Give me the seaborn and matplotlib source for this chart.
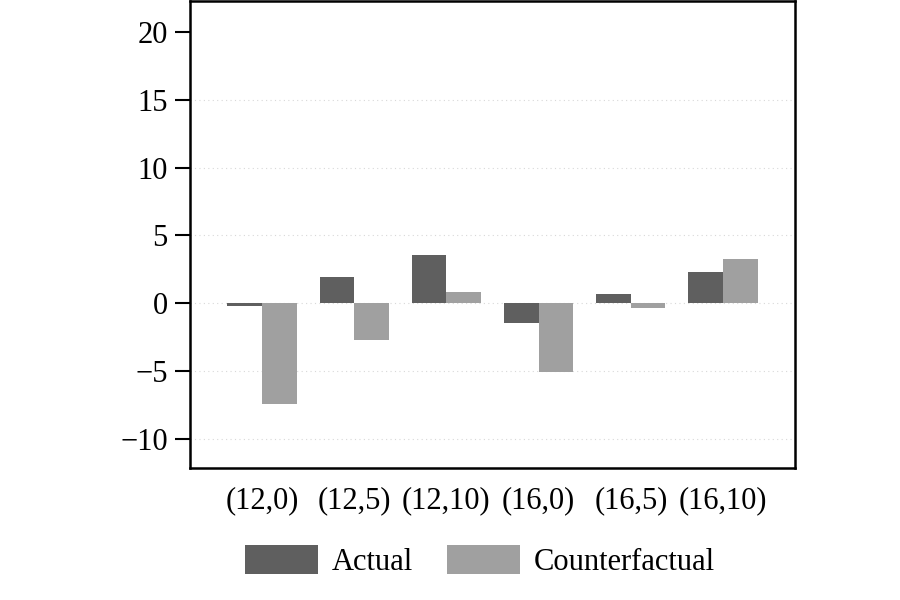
import pandas as pd
import matplotlib
matplotlib.use("Agg")
import matplotlib.pyplot as plt
import seaborn as sns

# values
groups = ["(12,0)", "(12,5)", "(12,10)", "(16,0)", "(16,5)", "(16,10)"]
actual = [-0.24, 1.93, 3.53, -1.49, 0.69, 2.28]
counterfactual = [-7.45, -2.74, 0.86, -5.07, -0.37, 3.29]
series = ["Actual", "Counterfactual"]
colors = ["#5f5f5f", "#a0a0a0"]
yticks = [-10, -5, 0, 5, 10, 15, 20]

df = pd.DataFrame({
    "group": groups * 2,
    "value": actual + counterfactual,
    "series": [series[0]] * len(groups) + [series[1]] * len(groups),
})

sns.set_style("white")
plt.rcParams["font.family"] = ["Liberation Serif", "DejaVu Serif"]
plt.rcParams["font.size"] = 22
plt.rcParams["text.color"] = "black"
plt.rcParams["xtick.color"] = "black"
plt.rcParams["ytick.color"] = "black"

fig = plt.figure(figsize=(9, 6), dpi=100)
ax = fig.add_axes([190 / 900, 1 - 468 / 600, 605 / 900, 468 / 600 - 0.002])

# dotted gridlines (none at top tick)
for y in yticks[:-1]:
    ax.axhline(y, color="#d8d8d8", linestyle=(0, (1, 3)), linewidth=0.8, zorder=0)

sns.barplot(data=df, x="group", y="value", hue="series", hue_order=series,
            palette=colors, saturation=1, width=0.75, gap=0, ax=ax,
            edgecolor="none", linewidth=0, zorder=2, legend=True)

ax.set_xlim(-0.78, 5.78)
ax.set_ylim(-12.15, 22.26)
ax.set_yticks(yticks)
ax.set_xlabel("")
ax.set_ylabel("")
ax.tick_params(axis="y", length=11, width=1.5, pad=5, labelsize=22, direction="out",
               left=True, colors="black")
ax.tick_params(axis="x", length=0, pad=13, labelsize=22, colors="black")
for s in ax.spines.values():
    s.set_linewidth(1.8)
    s.set_color("black")
    s.set_visible(True)

handles, labels = ax.get_legend_handles_labels()
ax.get_legend().remove()
fig.legend(handles, labels, loc="center", bbox_to_anchor=(480 / 900, 1 - 561 / 600),
           ncol=2, frameon=False, fontsize=22, handlelength=2.4, handleheight=1.05,
           handletextpad=0.45, columnspacing=1.1, labelcolor="black")

fig.savefig("out.png", dpi=100)
